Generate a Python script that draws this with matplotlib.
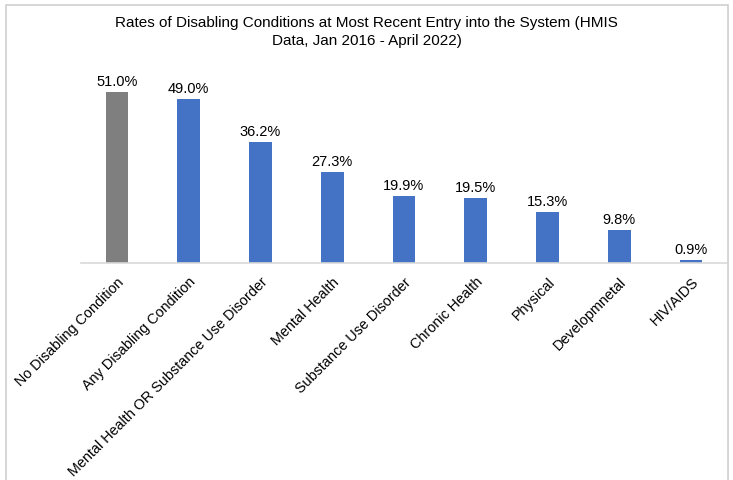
import matplotlib.pyplot as plt
from matplotlib.patches import Rectangle

categories = ['No Disabling Condition', 'Any Disabling Condition',
              'Mental Health OR Substance Use Disorder', 'Mental Health',
              'Substance Use Disorder', 'Chronic Health', 'Physical',
              'Developmnetal', 'HIV/AIDS']
rates = [51.0, 49.0, 36.2, 27.3, 19.9, 19.5, 15.3, 9.8, 0.9]
colors = ['#7F7F7F'] + ['#4472C4'] * 8

plt.rcParams['font.family'] = ['Liberation Sans', 'DejaVu Sans']

fig = plt.figure(figsize=(7.33, 4.81), dpi=100)
ax = fig.add_axes([81 / 733, 1 - 264 / 481, 646 / 733, 200.8 / 481])

x = range(len(categories))
bars = ax.bar(x, rates, width=0.315, color=colors)
for b, v in zip(bars, rates):
    ax.text(b.get_x() + b.get_width() / 2, v + 1.2, f'{v:.1f}%',
            ha='center', va='bottom', fontsize=10.5)

ax.set_xlim(-0.5, len(categories) - 0.5)
ax.set_ylim(0, 60)
ax.set_xticks(list(x))
ax.set_xticklabels(categories, rotation=45, ha='right', rotation_mode='anchor',
                   fontsize=10.4)
ax.tick_params(axis='x', length=0, pad=8)
ax.set_yticks([])
for s in ['top', 'right', 'left']:
    ax.spines[s].set_visible(False)
ax.spines['bottom'].set_color('#D9D9D9')
ax.spines['bottom'].set_linewidth(1.2)

fig.text(0.5, 1 - 32 / 481,
         'Rates of Disabling Conditions at Most Recent Entry into the System (HMIS\nData, Jan 2016 - April 2022)',
         ha='center', va='center', fontsize=11, linespacing=1.35)

fig.patches.append(Rectangle((6 / 733, -0.05), 722 / 733, 1.05 - 6 / 481,
                             transform=fig.transFigure, fill=False,
                             edgecolor='#D0D0D0', linewidth=1.2))

fig.savefig('out.png', dpi=100)
